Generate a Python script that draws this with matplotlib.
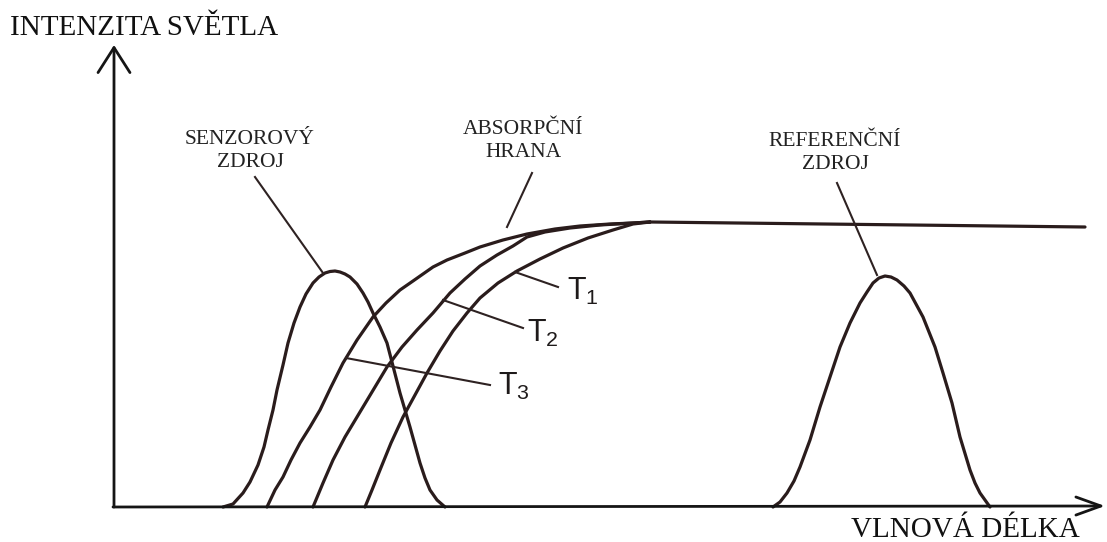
# Absorption edge sensor diagram - intensity vs. wavelength
import matplotlib.pyplot as plt

plt.rcParams['mathtext.fontset'] = 'custom'
plt.rcParams['mathtext.rm'] = 'Liberation Sans'

# values (x = wavelength, y = intensity, arbitrary units)
sensor_x = [109, 119, 129, 136, 144, 150, 154, 159, 163, 169, 174, 180, 186, 192, 199, 205, 211, 216,
            221, 226, 231, 236, 243, 249, 254, 259, 266, 273, 279, 286, 291, 296, 301, 306, 311, 316, 323, 331]
sensor_y = [0, 3, 14, 25, 42, 60, 77, 97, 117, 142, 164, 184, 200, 213, 224, 230, 234, 235.5,
            236, 235, 233, 230, 223, 214, 205, 194, 180, 164, 141, 114, 97, 80, 62, 44, 29, 17, 7, 0]

ref_x = [659, 666, 673, 680, 686, 696, 706, 716, 726, 736, 746, 753, 759, 765, 771, 777, 783, 790,
         796, 809, 821, 829, 838, 846, 856, 861, 866, 876]
ref_y = [0, 5, 14, 26, 40, 67, 100, 130, 160, 184, 204, 215, 224, 229, 231, 230, 227, 221,
         214, 190, 160, 134, 104, 70, 37, 24, 14, 0]

# T3 = absorption edge (top curve), T2, T1
t3_x = [153, 161, 169, 177, 186, 196, 206, 217, 229, 243, 259, 272, 286, 299, 319, 333, 351, 366, 389, 413, 441, 466, 496, 519, 536]
t3_y = [0, 17, 30, 47, 64, 80, 97, 120, 144, 167, 190, 204, 217, 226, 240, 247, 254, 260, 267, 273, 278, 281, 283, 284, 285]
t2_x = [199, 209, 219, 231, 243, 258, 273, 288, 303, 319, 336, 351, 366, 383, 399, 413, 431, 456, 486, 519, 536]
t2_y = [0, 24, 47, 70, 90, 115, 140, 160, 177, 194, 214, 228, 241, 252, 261, 270, 275, 279, 282, 284, 285]
t1_x = [251, 258, 266, 277, 289, 301, 313, 326, 339, 353, 366, 384, 403, 426, 449, 474, 499, 519, 536]
t1_y = [0, 17, 37, 64, 90, 112, 134, 156, 176, 194, 209, 224, 236, 248, 259, 269, 277, 283, 285]
plateau_x = [536, 971]
plateau_y = [285, 280]

# label texts and leader lines (start, end)
labels = ['SENZOROVÝ\nZDROJ', 'ABSORPČNÍ\nHRANA', 'REFERENČNÍ\nZDROJ']
label_pos = [(136, 356), (409, 366), (721, 354)]
leaders = [((141, 330), (209, 234)), ((418, 334), (393, 280)), ((723, 324), (763, 232))]
t_names = ['1', '2', '3']
t_pos = [(453, 207), (413, 165), (384, 112)]
t_leaders = [((401, 235), (444, 220)), ((329, 207), (409, 179)), ((232, 149), (376, 122))]

ink = '#2a1c1c'
serif = 'Liberation Serif'

fig = plt.figure(figsize=(11.07, 5.42), dpi=100)
ax = fig.add_axes([0, 0, 1, 1])
ax.set_xlim(-114, 993)
ax.set_ylim(-35, 507)
ax.axis('off')

# axes with open arrow heads
ax.annotate('', xy=(0, 462), xytext=(0, 0),
            arrowprops=dict(arrowstyle='->,head_length=1.8,head_width=1.15', lw=2.0,
                            color='#151515', shrinkA=0, shrinkB=0, mutation_scale=10))
ax.annotate('', xy=(991, 1), xytext=(-1, 0),
            arrowprops=dict(arrowstyle='->,head_length=1.8,head_width=0.65', lw=2.0,
                            color='#151515', shrinkA=0, shrinkB=0, mutation_scale=10))

# curves
for xs, ys in [(sensor_x, sensor_y), (ref_x, ref_y), (t3_x, t3_y), (t2_x, t2_y), (t1_x, t1_y), (plateau_x, plateau_y)]:
    ax.plot(xs, ys, color=ink, lw=2.3, solid_capstyle='round', solid_joinstyle='round')

# leader lines
for (a, b) in leaders + t_leaders:
    ax.plot([a[0], b[0]], [a[1], b[1]], color='#2e2222', lw=1.5)

for txt, (x, y) in zip(labels, label_pos):
    ax.text(x, y, txt, ha='center', va='center', multialignment='center',
            family=serif, fontsize=15.5, color='#222', linespacing=1.25)

for n, (x, y) in zip(t_names, t_pos):
    ax.text(x, y, r'T$_\mathregular{' + n + '}$', ha='left', va='baseline',
            family='Liberation Sans', fontsize=22, color='#1e1a1a')

ax.text(-104, 472, 'INTENZITA SVĚTLA', ha='left', va='baseline', family=serif, fontsize=21, color='#111')
ax.text(966, -30, 'VLNOVÁ DÉLKA', ha='right', va='baseline', family=serif, fontsize=21, color='#111')

plt.savefig('out.png', dpi=100)
